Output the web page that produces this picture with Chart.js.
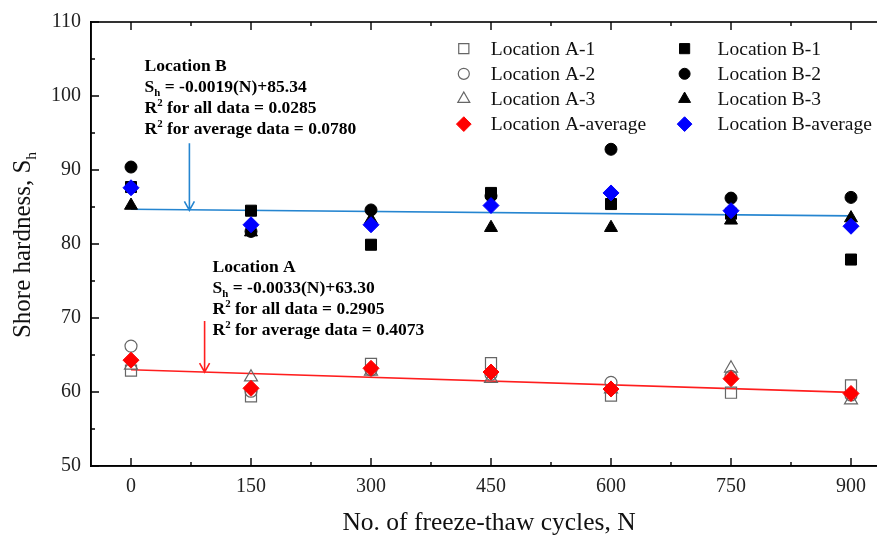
<!DOCTYPE html>
<html>
<head>
<meta charset="utf-8">
<script src="https://cdn.jsdelivr.net/npm/chart.js@4.4.1/dist/chart.umd.min.js"></script>
<style>
  html, body { margin: 0; padding: 0; background: #fff; overflow: hidden; }
  #wrap { width: 900px; height: 536px; }
</style>
</head>
<body>
<div id="wrap"><canvas id="c" width="900" height="536"></canvas></div>
<script>
// ---- data ----
const cycles = [0, 150, 300, 450, 600, 750, 900];
const locA1 = [62.9, 59.4, 63.8, 63.9, 59.5, 59.9, 60.9];
const locA2 = [66.2, 60.1, 63.0, 62.4, 61.3, 62.1, 59.6];
const locA3 = [63.6, 62.0, 62.8, 61.8, 60.4, 63.2, 58.9];
const locAavg = [64.3, 60.5, 63.2, 62.7, 60.4, 61.8, 59.8];
const locB1 = [87.7, 84.5, 79.9, 86.9, 85.4, 84.1, 77.9];
const locB2 = [90.4, 81.7, 84.6, 86.5, 92.8, 86.2, 86.3];
const locB3 = [85.2, 81.6, 83.3, 82.2, 82.2, 83.2, 83.5];
const locBavg = [87.6, 82.6, 82.6, 85.2, 86.9, 84.5, 82.4];
const fitX = [0, 900];
const fitA = [63.0, 59.95];
const fitB = [84.7, 83.8];
const xTickValues = [0, 150, 300, 450, 600, 750, 900];
const yTickValues = [50, 60, 70, 80, 90, 100, 110];
const legendLabels = ['Location A-1', 'Location A-2', 'Location A-3', 'Location A-average',
                      'Location B-1', 'Location B-2', 'Location B-3', 'Location B-average'];

const pts = (ys) => cycles.map((x, i) => ({ x: x, y: ys[i] }));
const fitPts = (ys) => fitX.map((x, i) => ({ x: x, y: ys[i] }));

const OPEN = '#666666';
const serif = '"Liberation Serif", "Times New Roman", serif';

function marker(label, data, style, radius, color, filled, order) {
  return {
    type: 'scatter', label: label, data: pts(data), pointStyle: style, pointRadius: radius,
    pointHoverRadius: radius, borderColor: color, backgroundColor: filled ? color : 'rgba(0,0,0,0)',
    pointBorderWidth: filled ? 1 : 1.2, showLine: false, order: order, legendItem: true
  };
}

const datasets = [
  { type: 'line', label: 'fitA', data: fitPts(fitA), borderColor: '#ff1e1e', borderWidth: 1.6, pointRadius: 0, order: 20, fill: false },
  { type: 'line', label: 'fitB', data: fitPts(fitB), borderColor: '#2585d0', borderWidth: 1.6, pointRadius: 0, order: 20, fill: false },
  marker(legendLabels[0], locA1, 'rect', 7.8, OPEN, false, 5),
  marker(legendLabels[1], locA2, 'circle', 6, OPEN, false, 5),
  marker(legendLabels[2], locA3, 'triangle', 7.5, OPEN, false, 5),
  marker(legendLabels[3], locAavg, 'rectRot', 8, '#ff0000', true, 1),
  marker(legendLabels[4], locB1, 'rect', 7.8, '#000000', true, 6),
  marker(legendLabels[5], locB2, 'circle', 6, '#000000', true, 5),
  marker(legendLabels[6], locB3, 'triangle', 7.5, '#000000', true, 4),
  marker(legendLabels[7], locBavg, 'rectRot', 8, '#0000ff', true, 1)
];

// annotations (data coordinates)
const notes = {
  B: { x: 17, lines: [ [{t:'Location B'}],
                       [{t:'S'},{t:'h',sub:true},{t:' = -0.0019(N)+85.34'}],
                       [{t:'R'},{t:'2',sup:true},{t:' for all data = 0.0285'}],
                       [{t:'R'},{t:'2',sup:true},{t:' for average data = 0.0780'}] ], y: 103.4 },
  A: { x: 102, lines: [ [{t:'Location A'}],
                       [{t:'S'},{t:'h',sub:true},{t:' = -0.0033(N)+63.30'}],
                       [{t:'R'},{t:'2',sup:true},{t:' for all data = 0.2905'}],
                       [{t:'R'},{t:'2',sup:true},{t:' for average data = 0.4073'}] ], y: 76.2 }
};
const arrows = [
  { x: 73, from: 93.6, to: 84.55, color: '#2585d0' },
  { x: 92, from: 69.6, to: 62.7, color: '#ff1e1e' }
];

function drawRich(ctx, segs, x, y, size, bold) {
  let cx = x;
  segs.forEach(s => {
    const fs = (s.sub || s.sup) ? size * 0.62 : size;
    ctx.font = (bold ? 'bold ' : '') + fs + 'px ' + serif;
    const dy = s.sub ? size * 0.22 : (s.sup ? -size * 0.38 : 0);
    ctx.fillText(s.t, cx, y + dy);
    cx += ctx.measureText(s.t).width;
  });
  return cx - x;
}

const decor = {
  id: 'decor',
  afterDatasetsDraw(chart) {
    const ctx = chart.ctx, ca = chart.chartArea;
    const xs = chart.scales.x, ys = chart.scales.y;
    ctx.save();
    // frame
    ctx.strokeStyle = '#000'; ctx.lineWidth = 1.6;
    ctx.strokeRect(ca.left, ca.top, ca.right - ca.left, ca.bottom - ca.top);
    // inward ticks
    ctx.lineWidth = 1.4;
    ctx.beginPath();
    for (let v = 50; v <= 110; v += 5) {
      const py = ys.getPixelForValue(v);
      const len = (v % 10 === 0) ? 8 : 4;
      ctx.moveTo(ca.left, py); ctx.lineTo(ca.left + len, py);
      ctx.moveTo(ca.right, py); ctx.lineTo(ca.right - len, py);
    }
    for (let v = -75; v <= 975; v += 75) {
      const px = xs.getPixelForValue(v);
      if (px <= ca.left + 1 || px >= ca.right - 1) continue;
      const len = (v % 150 === 0) ? 8 : 4;
      ctx.moveTo(px, ca.bottom); ctx.lineTo(px, ca.bottom - len);
      ctx.moveTo(px, ca.top); ctx.lineTo(px, ca.top + len);
    }
    ctx.stroke();

    // arrows
    arrows.forEach(a => {
      const px = xs.getPixelForValue(a.x);
      const y0 = ys.getPixelForValue(a.from), y1 = ys.getPixelForValue(a.to);
      ctx.strokeStyle = a.color; ctx.lineWidth = 1.6;
      ctx.beginPath();
      ctx.moveTo(px, y0); ctx.lineTo(px, y1);
      ctx.moveTo(px - 5, y1 - 9); ctx.lineTo(px, y1); ctx.lineTo(px + 5, y1 - 9);
      ctx.stroke();
    });

    // annotation text
    ctx.fillStyle = '#000'; ctx.textBaseline = 'alphabetic'; ctx.textAlign = 'left';
    Object.values(notes).forEach(n => {
      const px = xs.getPixelForValue(n.x), py = ys.getPixelForValue(n.y);
      n.lines.forEach((ln, i) => drawRich(ctx, ln, px, py + i * 21, 17.5, true));
    });

    // legend
    const items = chart.data.datasets.filter(d => d.legendItem);
    items.forEach((d, i) => {
      const col = Math.floor(i / 4), row = i % 4;
      const mx = xs.getPixelForValue(416 + col * 276), my = ys.getPixelForValue(106.4 - row * 3.4);
      ctx.lineWidth = d.pointBorderWidth; ctx.strokeStyle = d.borderColor; ctx.fillStyle = d.backgroundColor;
      Chart.helpers.drawPoint(ctx, { pointStyle: d.pointStyle, rotation: 0, borderWidth: d.pointBorderWidth, radius: d.pointRadius * 0.92 }, mx, my);
      ctx.fillStyle = '#111'; ctx.font = '19.5px ' + serif; ctx.textBaseline = 'middle';
      ctx.fillText(d.label, mx + (col ? 33 : 27), my + 1);
    });

    // axis titles
    ctx.fillStyle = '#111'; ctx.textBaseline = 'alphabetic';
    ctx.font = '25.5px ' + serif;
    const xt = 'No. of freeze-thaw cycles, N';
    const xw = ctx.measureText(xt).width;
    ctx.fillText(xt, 489 - xw / 2, 530);
    ctx.save();
    ctx.translate(30, 245); ctx.rotate(-Math.PI / 2);
    const yseg = [{t:'Shore hardness, S'},{t:'h',sub:true}];
    ctx.font = '25px ' + serif;
    const w1 = ctx.measureText(yseg[0].t).width;
    ctx.font = (25*0.62) + 'px ' + serif;
    const w2 = ctx.measureText('h').width;
    drawRich(ctx, yseg, -(w1 + w2) / 2, 0, 25, false);
    ctx.restore();
    ctx.restore();
  }
};

new Chart(document.getElementById('c'), {
  data: { datasets: datasets },
  options: {
    responsive: false, animation: false, devicePixelRatio: 1,
    layout: { padding: { left: 0, top: 20, right: 9, bottom: 0 } },
    plugins: { legend: { display: false }, tooltip: { enabled: false } },
    scales: {
      x: {
        type: 'linear', min: -50, max: 950,
        afterBuildTicks: s => { s.ticks = xTickValues.map(v => ({ value: v })); },
        afterFit: s => { s.height = 70; },
        grid: { display: false, drawTicks: false },
        border: { display: true, color: '#000', width: 1.6 },
        ticks: { color: '#222', font: { family: serif, size: 20 }, padding: 9, maxRotation: 0 }
      },
      y: {
        type: 'linear', min: 50, max: 110,
        afterBuildTicks: s => { s.ticks = yTickValues.map(v => ({ value: v })); },
        afterFit: s => { s.width = 91; },
        grid: { display: false, drawTicks: false },
        border: { display: true, color: '#000', width: 1.6 },
        ticks: { color: '#222', font: { family: serif, size: 20 }, padding: 10 }
      }
    }
  },
  plugins: [decor]
});
</script>
</body>
</html>
